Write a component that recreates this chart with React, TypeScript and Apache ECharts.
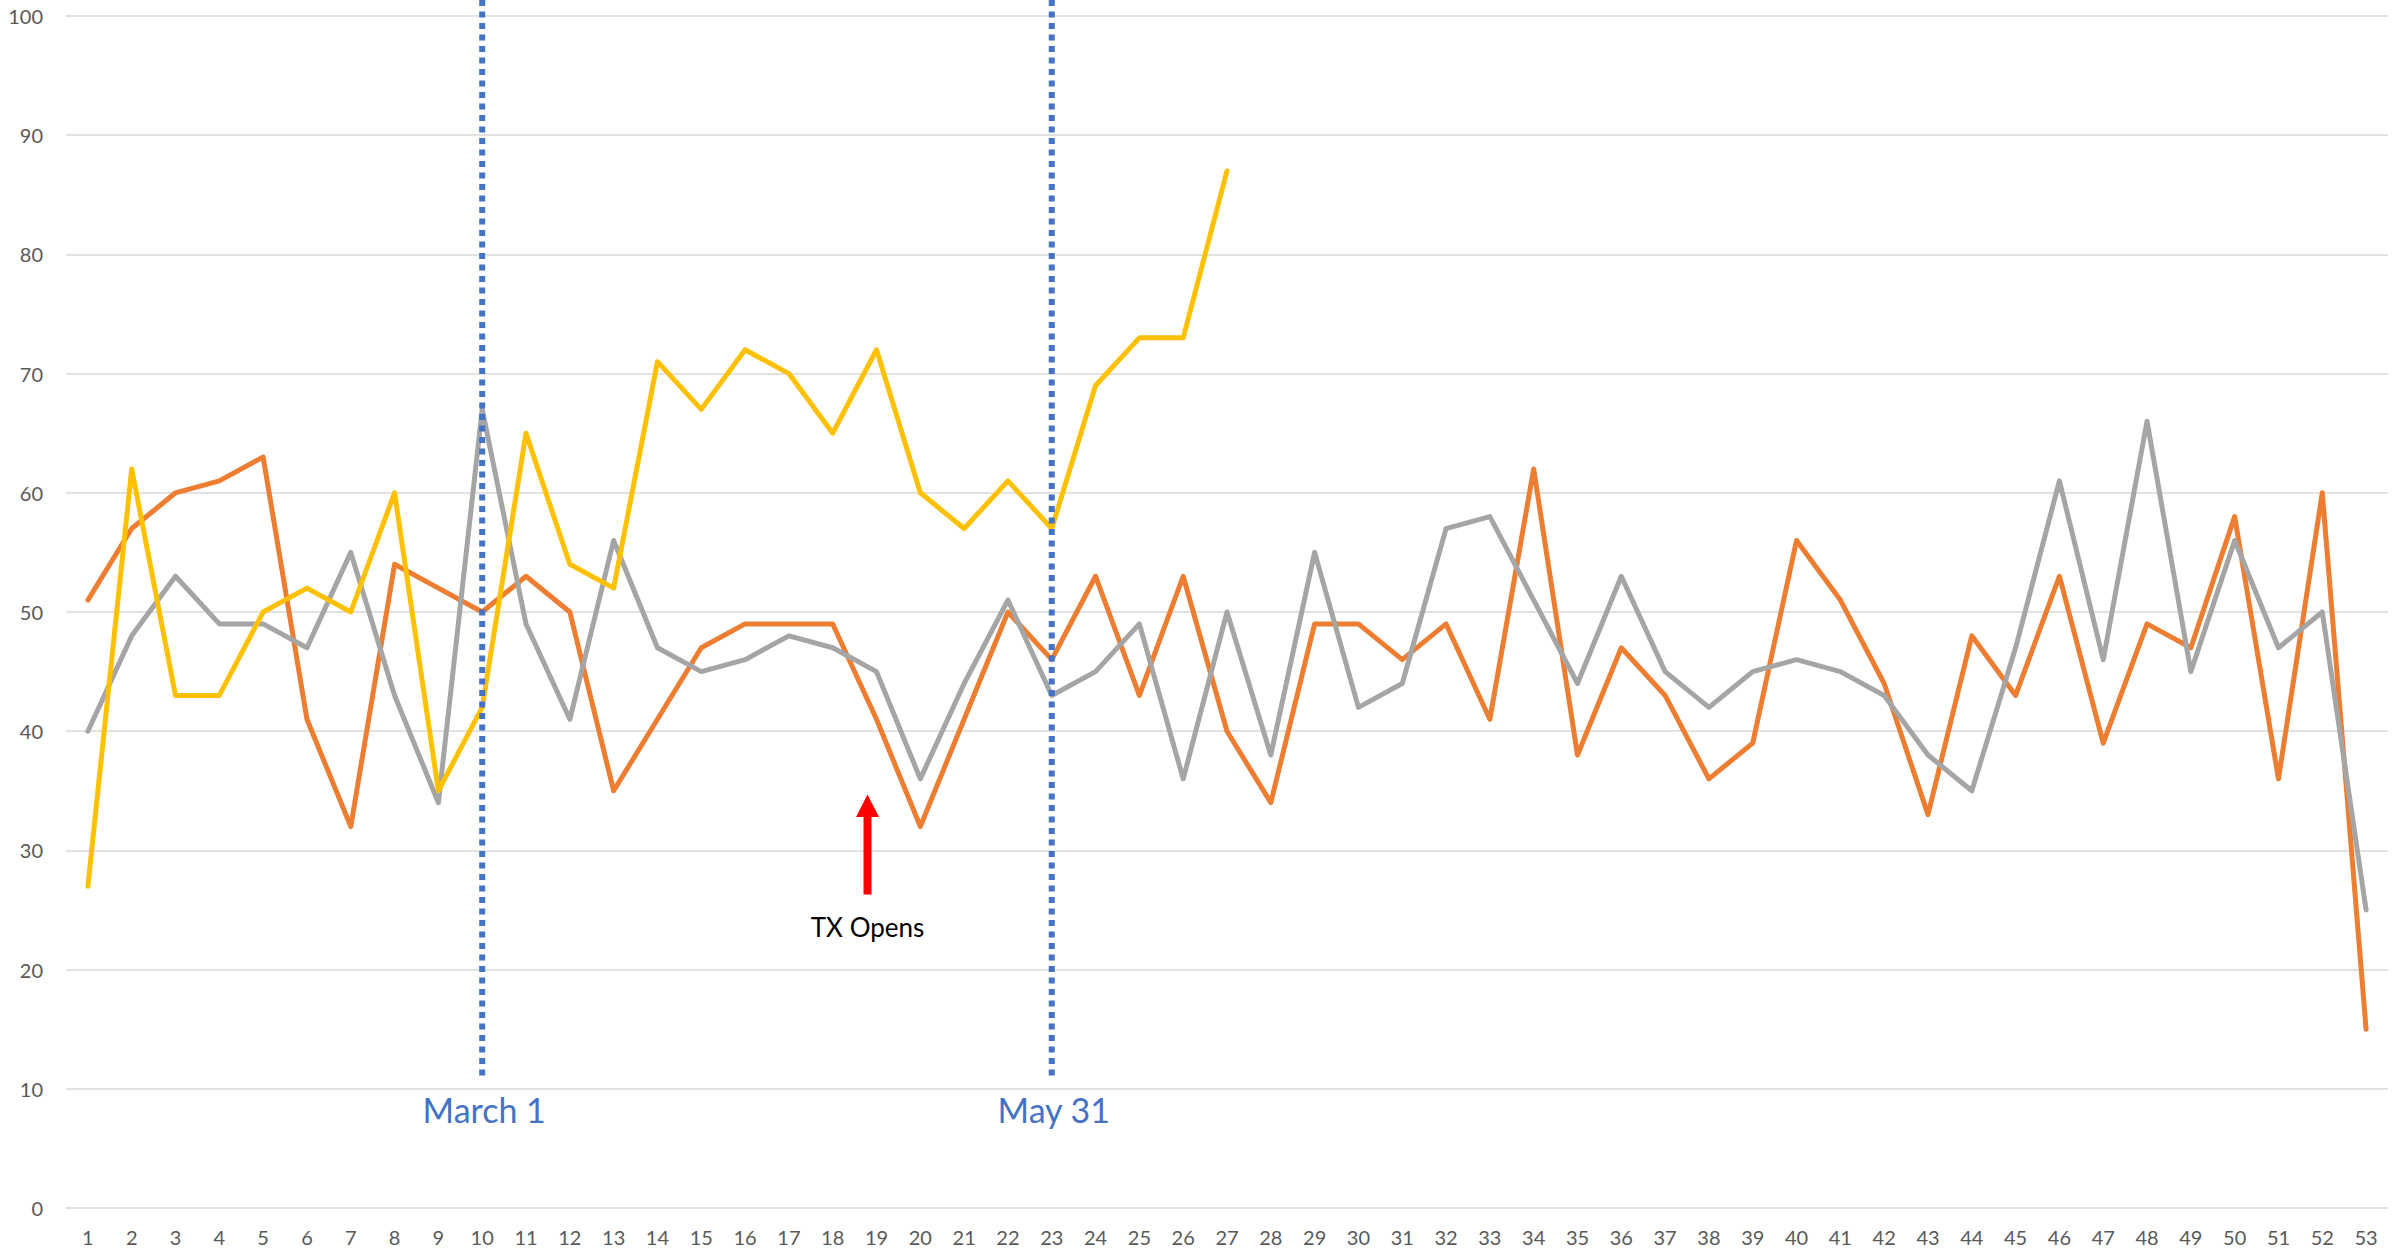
import React, { useEffect, useRef } from "react";
import * as echarts from "echarts";

const weeks: string[] = Array.from({ length: 53 }, (_, i) => String(i + 1));

const orangeValues: number[] = [
  51, 57, 60, 61, 63, 41, 32, 54, 52, 50, 53, 50, 35, 41, 47, 49, 49, 49, 41, 32,
  41, 50, 46, 53, 43, 53, 40, 34, 49, 49, 46, 49, 41, 62, 38, 47, 43, 36, 39, 56,
  51, 44, 33, 48, 43, 53, 39, 49, 47, 58, 36, 60, 15,
];

const grayValues: number[] = [
  40, 48, 53, 49, 49, 47, 55, 43, 34, 67, 49, 41, 56, 47, 45, 46, 48, 47, 45, 36,
  44, 51, 43, 45, 49, 36, 50, 38, 55, 42, 44, 57, 58, 51, 44, 53, 45, 42, 45, 46,
  45, 43, 38, 35, 47, 61, 46, 66, 45, 56, 47, 50, 25,
];

const yellowValues: (number | null)[] = [
  27, 62, 43, 43, 50, 52, 50, 60, 35, 42, 65, 54, 52, 71, 67, 72, 70, 65, 72, 60,
  57, 61, 57, 69, 73, 73, 87,
];

const yTicks = { min: 0, max: 100, interval: 10 };

const markers = [
  { week: "10", label: "March 1" },
  { week: "23", label: "May 31" },
];

const FONT = "Lato, 'Noto Sans', sans-serif";

export default function App() {
  const ref = useRef<HTMLDivElement>(null);

  useEffect(() => {
    if (!ref.current) return;
    const chart = echarts.init(ref.current, undefined, { renderer: "svg" });
    const yellowFull = weeks.map((_, i) => (i < yellowValues.length ? yellowValues[i] : null));

    chart.setOption({
      animation: false,
      backgroundColor: "#ffffff",
      grid: { left: 66, right: 19, top: 16, bottom: 46, containLabel: false },
      xAxis: {
        type: "category",
        data: weeks,
        boundaryGap: true,
        axisLine: { show: false },
        axisTick: { show: false },
        axisLabel: { color: "#595959", fontSize: 20, fontFamily: FONT, margin: 19, interval: 0 },
        splitLine: { show: false },
      },
      yAxis: {
        type: "value",
        min: yTicks.min,
        max: yTicks.max,
        interval: yTicks.interval,
        axisLine: { show: false },
        axisTick: { show: false },
        axisLabel: { color: "#595959", fontSize: 20, fontFamily: FONT, margin: 23 },
        splitLine: { lineStyle: { color: "#D9D9D9", width: 1.5 } },
      },
      series: [
        {
          name: "Orange",
          type: "line",
          data: orangeValues,
          symbol: "none",
          lineStyle: { color: "#ED7D31", width: 5, cap: "round", join: "round" },
          itemStyle: { color: "#ED7D31" },
          z: 2,
        },
        {
          name: "Gray",
          type: "line",
          data: grayValues,
          symbol: "none",
          lineStyle: { color: "#A5A5A5", width: 5, cap: "round", join: "round" },
          itemStyle: { color: "#A5A5A5" },
          z: 3,
        },
        {
          name: "Yellow",
          type: "line",
          data: yellowFull,
          symbol: "none",
          connectNulls: false,
          lineStyle: { color: "#FFC000", width: 5, cap: "round", join: "round" },
          itemStyle: { color: "#FFC000" },
          z: 4,
        },
      ],
    });

    // Annotations positioned through the chart's scales
    const graphics: any[] = [];
    markers.forEach((m) => {
      const bottom = chart.convertToPixel({ gridIndex: 0 }, [m.week, 11.1]) as number[];
      const p = chart.convertToPixel({ gridIndex: 0 }, [m.week, 8.3]) as number[];
      graphics.push({
        type: "line",
        shape: { x1: bottom[0], y1: 0, x2: bottom[0], y2: bottom[1] },
        style: { stroke: "#4472C4", lineWidth: 6, lineDash: [6, 5.5] },
        z: 90,
      });
      graphics.push({
        type: "text",
        x: p[0] + 2,
        y: p[1],
        style: {
          text: m.label,
          fill: "#4472C4",
          font: `34px ${FONT}`,
          textAlign: "center",
          textVerticalAlign: "middle",
        },
        z: 100,
      });
    });

    const base = chart.convertToPixel({ gridIndex: 0 }, ["19", 26.3]) as number[];
    const tip = chart.convertToPixel({ gridIndex: 0 }, ["19", 34.7]) as number[];
    const headBase = chart.convertToPixel({ gridIndex: 0 }, ["19", 32.8]) as number[];
    const textPt = chart.convertToPixel({ gridIndex: 0 }, ["19", 23.6]) as number[];
    const ax = base[0] - 9;
    graphics.push({
      type: "polygon",
      shape: {
        points: [
          [ax - 4, base[1]],
          [ax + 4, base[1]],
          [ax + 4, headBase[1]],
          [ax + 11.5, headBase[1]],
          [ax, tip[1]],
          [ax - 11.5, headBase[1]],
          [ax - 4, headBase[1]],
        ],
      },
      style: { fill: "#FF0000" },
      z: 100,
    });
    graphics.push({
      type: "text",
      x: ax,
      y: textPt[1],
      style: {
        text: "TX Opens",
        fill: "#000000",
        font: `26px ${FONT}`,
        textAlign: "center",
        textVerticalAlign: "middle",
      },
      z: 100,
    });
    chart.setOption({ graphic: graphics });

    return () => chart.dispose();
  }, []);

  return (
    <div
      ref={ref}
      style={{ position: "fixed", left: 0, top: 0, width: 2407, height: 1254, background: "#fff" }}
    />
  );
}
